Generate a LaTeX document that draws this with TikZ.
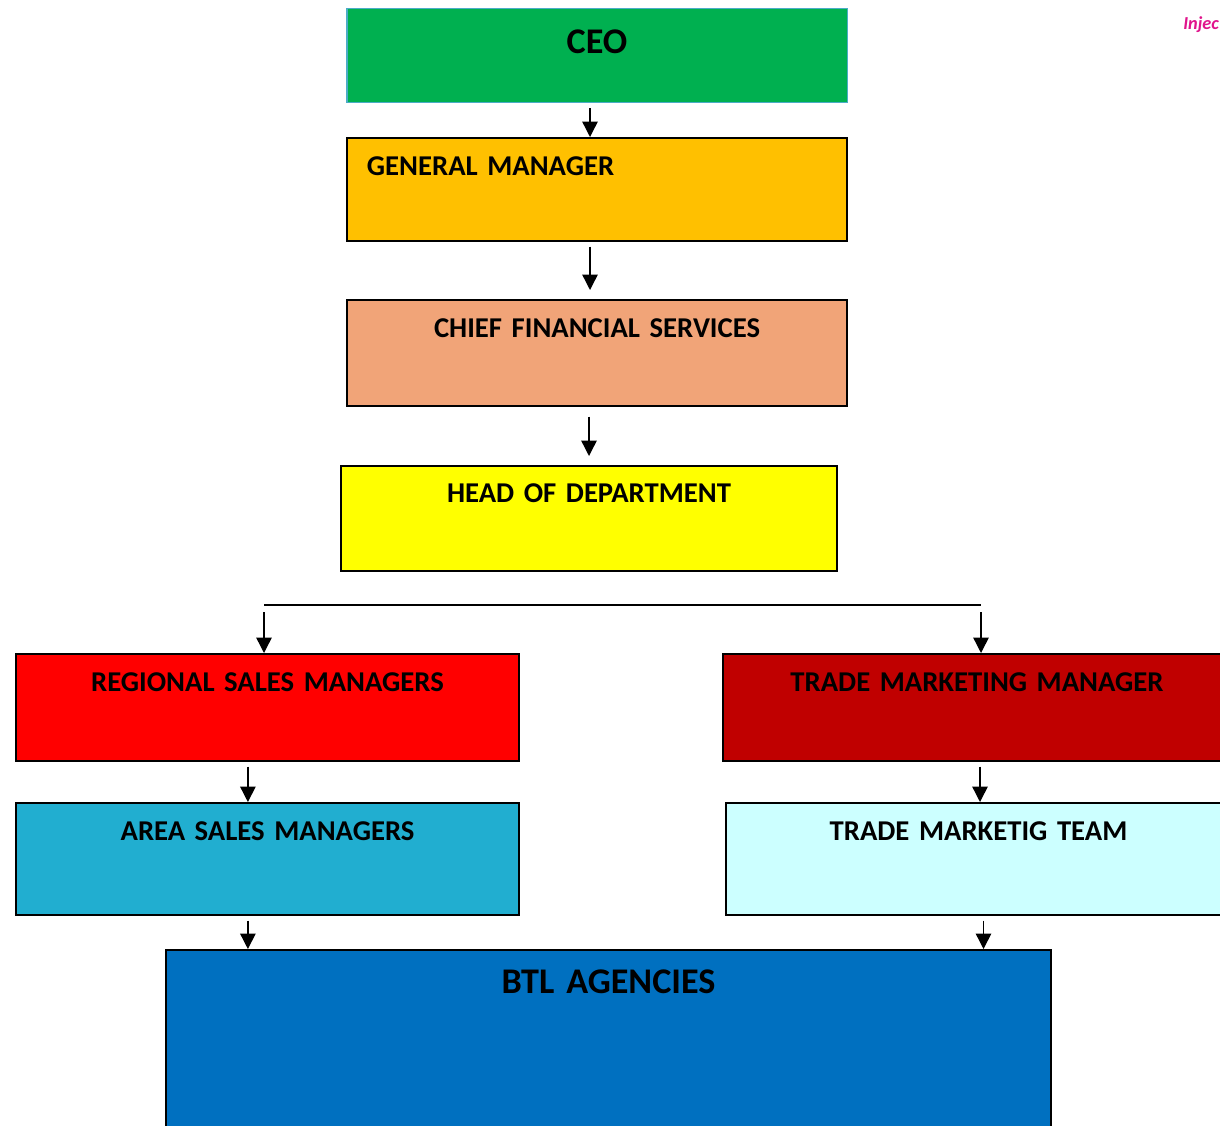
\documentclass[tikz,border=0pt]{standalone}
\usepackage{fontspec}
\setmainfont{Carlito}
\usepackage{tikz}
\usetikzlibrary{arrows.meta}

\definecolor{ceogreen}{RGB}{0,176,80}
\definecolor{ceoedge}{RGB}{75,172,198}
\definecolor{gmorange}{RGB}{255,192,0}
\definecolor{cfssand}{RGB}{241,164,120}
\definecolor{hodyellow}{RGB}{255,255,0}
\definecolor{rsmred}{RGB}{255,0,0}
\definecolor{tmmred}{RGB}{192,0,0}
\definecolor{asmblue}{RGB}{33,174,208}
\definecolor{tmtcyan}{RGB}{204,255,255}
\definecolor{btlblue}{RGB}{0,112,192}
\definecolor{injecpink}{RGB}{224,20,140}

\tikzset{
    rolebox/.style={draw=black, line width=1.2pt, anchor=north, inner sep=0pt,
        align=center, font=\bfseries\fontsize{20.4}{24}\selectfont},
    bigbox/.style={rolebox, font=\bfseries\fontsize{25.7}{30}\selectfont},
    flow/.style={-{Triangle[length=11pt, width=11pt]}, line width=1pt}
}

\begin{document}
\begin{tikzpicture}[x=0.025cm, y=-0.025cm]
    \useasboundingbox (0,0) rectangle (1220,1125);
    \clip (0,0) rectangle (1220,1125);

    % Top of the chart
    \node[bigbox, fill=ceogreen, draw=ceoedge, line width=0.8pt, text width=12.5cm,
        text height=1.125cm, text depth=1.225cm] (ceo) at (597,8) {CEO};
    \node[rolebox, fill=gmorange, align=left, inner xsep=0.5cm, text width=11.5cm,
        text height=0.95cm, text depth=1.625cm] (gm) at (597,137) {GENERAL MANAGER};
    \node[rolebox, fill=cfssand, text width=12.5cm,
        text height=0.95cm, text depth=1.7cm] (cfs) at (597,299) {CHIEF FINANCIAL SERVICES};
    \node[rolebox, fill=hodyellow, text width=12.4cm,
        text height=0.925cm, text depth=1.7cm] (hod) at (589,465) {HEAD OF DEPARTMENT};

    % Sales side
    \node[rolebox, fill=rsmred, text width=12.575cm,
        text height=0.95cm, text depth=1.725cm] (rsm) at (267.5,653) {REGIONAL SALES MANAGERS};
    \node[rolebox, fill=asmblue, text width=12.575cm,
        text height=0.95cm, text depth=1.85cm] (asm) at (267.5,802) {AREA SALES MANAGERS};

    % Marketing side
    \node[rolebox, fill=tmmred, text width=12.7cm,
        text height=0.95cm, text depth=1.725cm] (tmm) at (977,653) {TRADE MARKETING MANAGER};
    \node[rolebox, fill=tmtcyan, text width=12.625cm,
        text height=0.95cm, text depth=1.85cm] (tmt) at (978.5,802) {TRADE MARKETIG TEAM};

    % Bottom
    \node[bigbox, fill=btlblue, text width=22.125cm,
        text height=1.1cm, text depth=3.675cm] (btl) at (608.5,949) {BTL AGENCIES};

    % Corner tag
    \node[anchor=base west, inner sep=0pt, text=injecpink,
        font=\bfseries\itshape\fontsize{13}{15}\selectfont] (tag) at (1183,29) {Injec};

    % Arrows down the chain
    \draw[flow, shorten <=0.125cm] ([xshift=-0.175cm]ceo.south) -- ([xshift=-0.175cm]gm.north);
    \draw[flow, shorten <=0.125cm] ([xshift=-0.175cm]gm.south) -- ([xshift=-0.175cm, yshift=0.225cm]cfs.north);
    \draw[flow, shorten <=0.25cm] (hod.north |- cfs.south) -- ([yshift=0.225cm]hod.north);

    % Split
    \coordinate (splitL) at (264,605);
    \coordinate (splitR) at (981,605);
    \draw[line width=1pt] (splitL) -- (splitR);
    \draw[flow, shorten <=0.175cm] (splitL) -- (splitL |- rsm.north);
    \draw[flow, shorten <=0.175cm] (splitR) -- (splitR |- tmm.north);

    \draw[flow, shorten <=0.125cm] ([xshift=-0.49cm]rsm.south) -- ([xshift=-0.49cm]asm.north);
    \draw[flow, shorten <=0.125cm] ([xshift=0.075cm]tmm.south) -- ([xshift=0.075cm]tmm.south |- tmt.north);
    \draw[flow, shorten <=0.125cm] ([xshift=-0.49cm]asm.south) -- ([xshift=-0.49cm]asm.south |- btl.north);
    \draw[flow, shorten <=0.125cm] ([xshift=0.125cm]tmt.south) -- ([xshift=0.125cm]tmt.south |- btl.north);
\end{tikzpicture}
\end{document}
